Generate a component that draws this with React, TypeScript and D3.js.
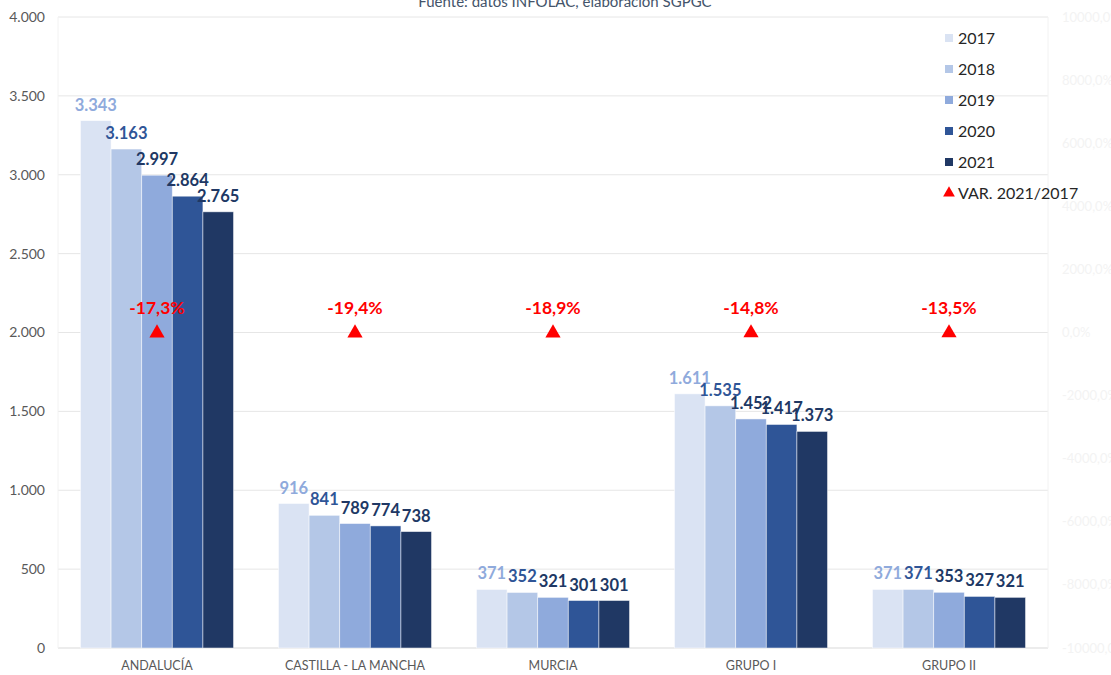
import React from "react";
import * as d3 from "d3";

const categories = ["ANDALUCÍA", "CASTILLA - LA MANCHA", "MURCIA", "GRUPO I", "GRUPO II"];
const years = ["2017", "2018", "2019", "2020", "2021"];
const v2017 = [3343, 916, 371, 1611, 371];
const v2018 = [3163, 841, 352, 1535, 371];
const v2019 = [2997, 789, 321, 1452, 353];
const v2020 = [2864, 774, 301, 1417, 327];
const v2021 = [2765, 738, 301, 1373, 321];
const variation = [-0.173, -0.194, -0.189, -0.148, -0.135];
const leftTicks = [0, 500, 1000, 1500, 2000, 2500, 3000, 3500, 4000];
const rightTicks = [-100, -80, -60, -40, -20, 0, 20, 40, 60, 80, 100];

const series = [v2017, v2018, v2019, v2020, v2021];
const barColors = ["#dae3f3", "#b4c7e7", "#8faadc", "#2f5597", "#203864"];
const labelColors = ["#8faadc", "#2f5597", "#203864", "#203864", "#203864"];

const W = 1111;
const H = 675;
const left = 58;
const right = 1048;
const top = 17;
const bottom = 648;
const FONT = "Lato, 'Open Sans', sans-serif";

const locale = d3.formatLocale({ decimal: ",", thousands: ".", grouping: [3], currency: ["", "€"], minus: "-" });
const fmtNum = locale.format(",d");
const fmtPct = locale.format(".1%");

export default function App() {
  const x = d3.scaleBand<string>().domain(categories).range([left, right]).paddingInner(0.227).paddingOuter(0.1135);
  const xi = d3.scaleBand<string>().domain(years).range([0, x.bandwidth()]);
  const y = d3.scaleLinear().domain([0, 4000]).range([bottom, top]);
  const y2 = d3.scaleLinear().domain([-100, 100]).range([bottom, top]);
  const tri = d3.symbol().type(d3.symbolTriangle).size(100)();

  return (
    <svg width={W} height={H} style={{ position: "absolute", left: 0, top: 0, display: "block", background: "#fff" }}>
      <text x={565} y={7} textAnchor="middle" fontFamily={FONT} fontSize={15} fill="#44546a">
        Fuente: datos INFOLAC, elaboración SGPGC
      </text>
      {leftTicks.map((t) => (
        <g key={t}>
          <line x1={left} x2={right} y1={y(t)} y2={y(t)} stroke={t === 0 ? "#d9d9d9" : "#e6e6e6"} strokeWidth={1} />
          <text x={45} y={y(t)} dy="0.35em" textAnchor="end" fontFamily={FONT} fontSize={14} fill="#595959">
            {fmtNum(t)}
          </text>
        </g>
      ))}
      <line x1={left} x2={left} y1={top} y2={bottom} stroke="#f2f2f2" />
      <line x1={right} x2={right} y1={top} y2={bottom} stroke="#f2f2f2" />
      {rightTicks.map((t) => (
        <text key={t} x={1062} y={y2(t)} dy="0.35em" fontFamily={FONT} fontSize={13} fill="#f3f3f3">
          {fmtPct(t)}
        </text>
      ))}
      {categories.map((c, ci) => (
        <g key={c} transform={`translate(${x(c)},0)`}>
          {years.map((yr, si) => (
            <rect
              key={yr}
              x={xi(yr)}
              y={y(series[si][ci])}
              width={xi.bandwidth()}
              height={bottom - y(series[si][ci])}
              fill={barColors[si]}
              stroke="#ffffff"
              strokeOpacity={0.6}
              strokeWidth={0.8}
            />
          ))}
          {years.map((yr, si) => (
            <text
              key={yr}
              x={(xi(yr) as number) + xi.bandwidth() / 2}
              y={y(series[si][ci]) - 10}
              textAnchor="middle"
              fontFamily={FONT}
              fontWeight="bold"
              fontSize={16.5}
              fill={labelColors[si]}
            >
              {fmtNum(series[si][ci])}
            </text>
          ))}
          <text x={x.bandwidth() / 2} y={670} textAnchor="middle" fontFamily={FONT} fontSize={12.5} fill="#595959">
            {c}
          </text>
        </g>
      ))}
      {categories.map((c, ci) => {
        const cx = (x(c) as number) + x.bandwidth() / 2;
        const cy = y2(variation[ci]);
        return (
          <g key={c}>
            <path d={tri as string} transform={`translate(${cx},${cy})`} fill="#ff0000" />
            <text x={cx} y={cy - 19} textAnchor="middle" fontFamily={FONT} fontWeight="bold" fontSize={17.5} fill="#ff0000">
              {fmtPct(variation[ci])}
            </text>
          </g>
        );
      })}
      {years.map((yr, si) => (
        <g key={yr} transform={`translate(945,${38 + si * 31})`}>
          <rect x={0} y={-4} width={8} height={8} fill={barColors[si]} />
          <text x={13} y={0} dy="0.36em" fontFamily={FONT} fontSize={16} fill="#262626">
            {yr}
          </text>
        </g>
      ))}
      <g transform={`translate(945,${38 + 5 * 31})`}>
        <path d={d3.symbol().type(d3.symbolTriangle).size(60)() as string} transform="translate(4,0)" fill="#ff0000" />
        <text x={13} y={0} dy="0.36em" fontFamily={FONT} fontSize={16} fill="#262626">
          VAR. 2021/2017
        </text>
      </g>
    </svg>
  );
}
